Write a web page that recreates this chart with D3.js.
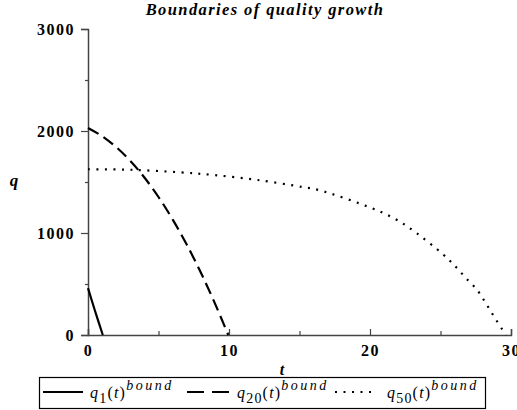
<!DOCTYPE html>
<html>
<head>
<meta charset="utf-8">
<script src="https://cdn.jsdelivr.net/npm/d3@7"></script>
<style>
  body { margin: 0; background: #fff; }
  svg { display: block; }
  .tick text { font-family: "Liberation Serif", serif; font-weight: bold; font-size: 16px; letter-spacing: 1.5px; fill: #000; }
</style>
</head>
<body>
<div id="chart"></div>
<script>
// values
var t1 = [0, 0.5, 1.05];
var q1 = [460, 235, 0];

var t20 = [0, 1, 2, 3, 4, 5, 6, 7, 8, 9, 9.95];
var q20 = [2030, 1950, 1842, 1707, 1544, 1353, 1134, 887, 613, 310, 0];

var t50 = [0, 3, 6.5, 8.9, 12, 15.2, 16.4, 20.1, 21.8, 23.3, 25.15, 26.0, 26.8, 27.6, 28.2, 28.8, 29.4, 29.65];
var q50 = [1625, 1620, 1595, 1569, 1520, 1451, 1420, 1245, 1137, 1000, 794, 680, 559, 441, 314, 180, 49, 0];

var xMajor = [0, 10, 20, 30];
var xMinor = [5, 15, 25];
var yMajor = [0, 1000, 2000, 3000];
var yMinor = [500, 1500, 2500];

var seriesNames = ["1", "20", "50"];
var dashes = [null, "12,6", "2,6.5"];

var width = 517, height = 410;
var serif = "Liberation Serif, serif";

var svg = d3.select("#chart")
  .append("svg")
  .attr("width", width)
  .attr("height", height);

var x = d3.scaleLinear().domain([0, 30]).range([88, 511]);
var y = d3.scaleLinear().domain([0, 3000]).range([335, 29]);

// title
svg.append("text")
  .attr("x", 265)
  .attr("y", 15)
  .attr("text-anchor", "middle")
  .attr("font-family", serif)
  .attr("font-weight", "bold")
  .attr("font-style", "italic")
  .attr("font-size", "16.5px")
  .attr("letter-spacing", "1.4px")
  .text("Boundaries of quality growth");

// y axis
svg.append("g")
  .attr("transform", "translate(" + x(0) + ",0)")
  .call(d3.axisLeft(y).tickValues(yMajor).tickSize(7).tickPadding(6).tickFormat(d3.format("d")));
svg.append("g")
  .attr("transform", "translate(" + x(0) + ",0)")
  .call(d3.axisLeft(y).tickValues(yMinor).tickSize(3).tickFormat(""))
  .select(".domain").remove();

// x axis
svg.append("g")
  .attr("transform", "translate(0," + y(0) + ")")
  .call(d3.axisBottom(x).tickValues(xMajor).tickSize(-6).tickPadding(10).tickFormat(d3.format("d")));
svg.append("g")
  .attr("transform", "translate(0," + y(0) + ")")
  .call(d3.axisBottom(x).tickValues(xMinor).tickSize(-4).tickFormat(""))
  .select(".domain").remove();

svg.selectAll(".domain").attr("stroke", "#444").attr("stroke-width", 1.5);
svg.selectAll(".tick line").attr("stroke", "#444").attr("stroke-width", 1.2);

// axis labels
svg.append("text")
  .attr("x", 14)
  .attr("y", 186)
  .attr("text-anchor", "middle")
  .attr("font-family", serif)
  .attr("font-weight", "bold")
  .attr("font-style", "italic")
  .attr("font-size", "17px")
  .text("q");

svg.append("text")
  .attr("x", 282)
  .attr("y", 375)
  .attr("text-anchor", "middle")
  .attr("font-family", serif)
  .attr("font-weight", "bold")
  .attr("font-style", "italic")
  .attr("font-size", "16px")
  .text("t");

// curves
var series = [
  d3.zip(t1, q1),
  d3.zip(t20, q20),
  d3.zip(t50, q50)
];

var line = d3.line()
  .x(function(d) { return x(d[0]); })
  .y(function(d) { return y(d[1]); })
  .curve(d3.curveCatmullRom);

svg.selectAll(".curve")
  .data(series)
  .enter()
  .append("path")
  .attr("class", "curve")
  .attr("d", line)
  .attr("fill", "none")
  .attr("stroke", "#000")
  .attr("stroke-width", 2.2)
  .attr("stroke-dasharray", function(d, i) { return dashes[i]; });

// legend
svg.append("rect")
  .attr("x", 39.5)
  .attr("y", 377.5)
  .attr("width", 446)
  .attr("height", 31)
  .attr("fill", "#fff")
  .attr("stroke", "#000")
  .attr("stroke-width", 1.2);

var legendLineX = [43, 187, 335];
var legendLineW = [40, 42, 40];
var legendTextX = [90, 237, 387];

seriesNames.forEach(function(name, i) {
  svg.append("line")
    .attr("x1", legendLineX[i])
    .attr("x2", legendLineX[i] + legendLineW[i])
    .attr("y1", 392)
    .attr("y2", 392)
    .attr("stroke", "#000")
    .attr("stroke-width", 2)
    .attr("stroke-dasharray", i == 1 ? "17,8" : dashes[i]);

  var txt = svg.append("text")
    .attr("x", legendTextX[i])
    .attr("y", 398)
    .attr("font-family", serif)
    .attr("font-size", "16px")
    .attr("letter-spacing", "1.2px");
  txt.append("tspan").attr("font-style", "italic").text("q");
  txt.append("tspan").attr("font-size", "14px").attr("dy", 5).text(name);
  txt.append("tspan").attr("dy", -5).text("(");
  txt.append("tspan").attr("font-style", "italic").text("t");
  txt.append("tspan").text(")");
  txt.append("tspan").attr("font-size", "14px").attr("font-style", "italic")
    .attr("letter-spacing", "2.5px").attr("dy", -8).text("bound");
});
</script>
</body>
</html>
